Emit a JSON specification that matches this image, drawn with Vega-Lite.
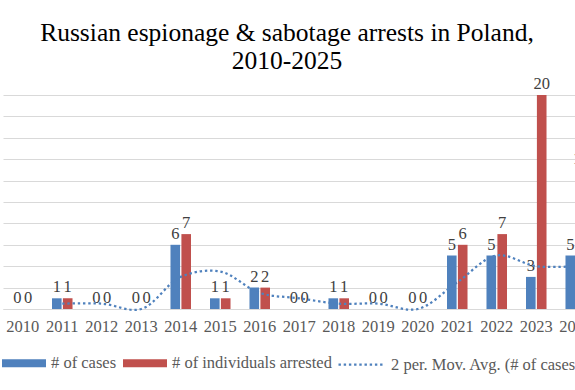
{
  "$schema": "https://vega.github.io/schema/vega-lite/v6.json",
  "width": 632,
  "height": 214,
  "autosize": {"type": "none"},
  "padding": {"left": 3, "top": 95, "right": 0, "bottom": 81},
  "background": "white",
  "config": {"view": {"stroke": null}, "font": "Liberation Serif"},
  "title": {
    "text": ["Russian espionage & sabotage arrests in Poland,", "2010-2025"],
    "font": "Liberation Serif",
    "fontSize": 25.5,
    "fontWeight": "normal",
    "color": "#000000",
    "anchor": "middle",
    "frame": "group",
    "dx": -32,
    "offset": 2,
    "lineHeight": 28
  },
  "datasets": {
    "bars": [
      {"year": "2010", "series": "# of cases", "value": 0},
      {"year": "2010", "series": "# of individuals arrested", "value": 0},
      {"year": "2011", "series": "# of cases", "value": 1},
      {"year": "2011", "series": "# of individuals arrested", "value": 1},
      {"year": "2012", "series": "# of cases", "value": 0},
      {"year": "2012", "series": "# of individuals arrested", "value": 0},
      {"year": "2013", "series": "# of cases", "value": 0},
      {"year": "2013", "series": "# of individuals arrested", "value": 0},
      {"year": "2014", "series": "# of cases", "value": 6},
      {"year": "2014", "series": "# of individuals arrested", "value": 7},
      {"year": "2015", "series": "# of cases", "value": 1},
      {"year": "2015", "series": "# of individuals arrested", "value": 1},
      {"year": "2016", "series": "# of cases", "value": 2},
      {"year": "2016", "series": "# of individuals arrested", "value": 2},
      {"year": "2017", "series": "# of cases", "value": 0},
      {"year": "2017", "series": "# of individuals arrested", "value": 0},
      {"year": "2018", "series": "# of cases", "value": 1},
      {"year": "2018", "series": "# of individuals arrested", "value": 1},
      {"year": "2019", "series": "# of cases", "value": 0},
      {"year": "2019", "series": "# of individuals arrested", "value": 0},
      {"year": "2020", "series": "# of cases", "value": 0},
      {"year": "2020", "series": "# of individuals arrested", "value": 0},
      {"year": "2021", "series": "# of cases", "value": 5},
      {"year": "2021", "series": "# of individuals arrested", "value": 6},
      {"year": "2022", "series": "# of cases", "value": 5},
      {"year": "2022", "series": "# of individuals arrested", "value": 7},
      {"year": "2023", "series": "# of cases", "value": 3},
      {"year": "2023", "series": "# of individuals arrested", "value": 20},
      {"year": "2024", "series": "# of cases", "value": 5},
      {"year": "2024", "series": "# of individuals arrested", "value": 13}
    ],
    "ma": [
      {"year": "2011", "value": 0.5},
      {"year": "2012", "value": 0.5},
      {"year": "2013", "value": 0},
      {"year": "2014", "value": 3},
      {"year": "2015", "value": 3.5},
      {"year": "2016", "value": 1.5},
      {"year": "2017", "value": 1},
      {"year": "2018", "value": 0.5},
      {"year": "2019", "value": 0.5},
      {"year": "2020", "value": 0},
      {"year": "2021", "value": 2.5},
      {"year": "2022", "value": 5},
      {"year": "2023", "value": 4},
      {"year": "2024", "value": 4}
    ]
  },
  "encoding": {
    "x": {
      "field": "year",
      "type": "nominal",
      "scale": {
        "domain": ["2010","2011","2012","2013","2014","2015","2016","2017","2018","2019","2020","2021","2022","2023","2024","2025"],
        "paddingInner": 0.48,
        "paddingOuter": 0.24
      },
      "axis": {
        "title": null,
        "labelAngle": 0,
        "labelFont": "Liberation Serif",
        "labelFontSize": 16.5,
        "labelColor": "#595959",
        "labelPadding": 9,
        "labelOverlap": false,
        "labelBound": false,
        "ticks": false,
        "domainColor": "#d9d9d9",
        "domainWidth": 1,
        "grid": false
      }
    },
    "y": {
      "field": "value",
      "type": "quantitative",
      "scale": {"domain": [0, 20], "nice": false},
      "axis": {
        "title": null,
        "tickCount": 10,
        "labels": false,
        "ticks": false,
        "domain": false,
        "grid": true,
        "gridColor": "#d9d9d9",
        "gridWidth": 1
      }
    }
  },
  "layer": [
    {
      "data": {"name": "bars"},
      "mark": {"type": "bar"},
      "encoding": {
        "xOffset": {"field": "series", "type": "nominal", "scale": {"domain": ["# of cases", "# of individuals arrested"], "paddingInner": 0.12}},
        "color": {
          "field": "series",
          "type": "nominal",
          "scale": {"domain": ["# of cases", "# of individuals arrested"], "range": ["#4F81BD", "#C0504D"]},
          "legend": {
            "title": null,
            "orient": "none",
            "direction": "horizontal",
            "legendX": -1,
            "legendY": 246,
            "padding": 0,
            "symbolType": "M-1,-0.18H1V0.18H-1Z",
            "symbolSize": 1936,
            "symbolStrokeWidth": 0,
            "labelFont": "Liberation Serif",
            "labelFontSize": 16.5,
            "labelColor": "#595959",
            "labelOffset": 5,
            "labelLimit": 0,
            "columnPadding": 6
          }
        }
      }
    },
    {
      "data": {"name": "bars"},
      "mark": {"type": "text", "baseline": "bottom", "dy": -3, "font": "Liberation Serif", "fontSize": 16.5, "color": "#404040"},
      "encoding": {
        "xOffset": {"field": "series", "type": "nominal"},
        "text": {"field": "value", "type": "quantitative"}
      }
    },
    {
      "data": {"name": "ma"},
      "mark": {"type": "line", "interpolate": "catmull-rom", "strokeWidth": 2.25, "strokeDash": [2.4, 2.8], "strokeCap": "butt"},
      "encoding": {
        "stroke": {
          "datum": "2 per. Mov. Avg. (# of cases)",
          "type": "nominal",
          "scale": {"range": ["#4F81BD"]},
          "legend": {
            "title": null,
            "orient": "none",
            "legendX": 334,
            "legendY": 245,
            "padding": 0,
            "symbolType": "stroke",
            "symbolSize": 2116,
            "symbolStrokeWidth": 2.25,
            "symbolDash": [2.4, 2.8],
            "labelFont": "Liberation Serif",
            "labelFontSize": 16.5,
            "labelColor": "#595959",
            "labelOffset": 5,
            "labelLimit": 0
          }
        }
      }
    }
  ]
}
